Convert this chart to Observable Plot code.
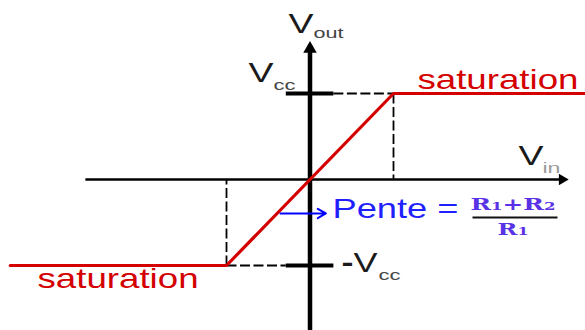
<!DOCTYPE html>
<html>
<head>
<meta charset="utf-8">
<script src="https://cdn.jsdelivr.net/npm/d3@7"></script>
<script src="https://cdn.jsdelivr.net/npm/@observablehq/plot@0.6"></script>
<style>
  html, body { margin: 0; padding: 0; background: white; }
</style>
</head>
<body>
<div id="chart"></div>
<script>
// Transfer characteristic (Vin in units of Vcc/gain, Vout in units of Vcc)
const curveVin  = [-3.59, -1, 1, 3.29];
const curveVout = [-1, -1, 1, 1];

// Dashed guide segments
const guideX1 = [0.28, 1, -1, -1];
const guideY1 = [1, 1, -1, -1];
const guideX2 = [1, 1, -0.29, -1];
const guideY2 = [1, 0, -1, 0];

// ±Vcc tick marks on the Vout axis
const tickLevels = [1, -1];
const tickFrom = -0.29, tickTo = 0.28;

// Axis extents
const xAxisFrom = -2.69, xAxisTo = 3.02;
const yAxisFrom = -1.76, yAxisTo = 1.52;

// Slope annotation arrow
const slopeArrow = {x1: -0.353, y1: -0.395, x2: 0.19, y2: -0.395};

// Labels
const mainLabels = [
  {text: "V",   x: -0.257, y: 1.709},
  {text: "V",   x: -0.737, y: 1.128},
  {text: "-V",  x: 0.377,  y: -1.081},
  {text: "V",   x: 2.497,  y: 0.163}
];
const subLabels = [
  {text: "out", x: 0.042, y: 1.64, kind: "sub"},
  {text: "cc",  x: -0.437, y: 1.035, kind: "sub"},
  {text: "cc",  x: 0.82,  y: -1.174, kind: "sub"},
  {text: "in",  x: 2.784, y: 0.081, kind: "subLight"}
];
const satLabels = [
  {text: "saturation", x: 1.287, y: 1.058},
  {text: "saturation", x: -3.263, y: -1.267}
];
const slopeLabel = [{text: "Pente =", x: 0.269, y: -0.453}];
const fracNum = [{text: "R1+R2", x: 1.922, y: -0.349}];
const fracDen = [{text: "R1", x: 2.246, y: -0.651}];
const fracBar = {x1: 1.946, x2: 2.964, y: -0.442};

const curve = curveVin.map((v, i) => ({vin: v, vout: curveVout[i]}));
const guides = guideX1.map((v, i) => ({x1: v, y1: guideY1[i], x2: guideX2[i], y2: guideY2[i]}));

const sans = "Liberation Sans, Arial, sans-serif";
const serif = "DejaVu Serif, serif";

const plot = Plot.plot({
  width: 585,
  height: 330,
  margin: 0,
  x: {domain: [-309.5 / 83.5, 275.5 / 83.5], axis: null},
  y: {domain: [-151 / 86, 179 / 86], axis: null},
  style: {background: "white", overflow: "visible"},
  marks: [
    // dashed guides
    Plot.link(guides, {x1: "x1", y1: "y1", x2: "x2", y2: "y2", stroke: "black", strokeWidth: 1.8, strokeDasharray: "10,3.5"}),
    // horizontal axis
    Plot.link([0], {x1: xAxisFrom, x2: xAxisTo, y1: 0, y2: 0, stroke: "black", strokeWidth: 2.5}),
    Plot.dot([0], {x: xAxisTo, y: 0, symbol: "triangle", r: 4.2, fill: "black", rotate: 90}),
    // vertical axis
    Plot.link([0], {x1: 0, x2: 0, y1: yAxisFrom, y2: yAxisTo, stroke: "black", strokeWidth: 4.5}),
    Plot.dot([0], {x: 0, y: yAxisTo, symbol: "triangle", r: 5, fill: "black"}),
    // ±Vcc ticks
    Plot.link(tickLevels, {x1: tickFrom, x2: tickTo, y1: d => d, y2: d => d, stroke: "black", strokeWidth: 4}),
    // transfer curve
    Plot.line(curve, {x: "vin", y: "vout", stroke: "#d40000", strokeWidth: 3.2}),
    // slope arrow
    Plot.arrow([slopeArrow], {x1: "x1", y1: "y1", x2: "x2", y2: "y2", stroke: "#0000ff", strokeWidth: 2, headLength: 7}),
    // fraction bar
    Plot.link([fracBar], {x1: "x1", x2: "x2", y1: "y", y2: "y", stroke: "#111", strokeWidth: 2}),
    // labels
    Plot.text(mainLabels, {x: "x", y: "y", text: "text", textAnchor: "start", lineAnchor: "bottom", fontSize: 27, fontFamily: sans, fill: "#1a1a1a"}),
    Plot.text(subLabels, {x: "x", y: "y", text: "text", textAnchor: "start", lineAnchor: "bottom", fontSize: 15, fontFamily: sans, fill: d => d.kind === "subLight" ? "#9a9a9a" : "#444"}),
    Plot.text(satLabels, {x: "x", y: "y", text: "text", textAnchor: "start", lineAnchor: "bottom", fontSize: 28, fontFamily: sans, fill: "#d40000"}),
    Plot.text(slopeLabel, {x: "x", y: "y", text: "text", textAnchor: "start", lineAnchor: "bottom", fontSize: 28, fontFamily: sans, fill: "#1f1fff"}),
    Plot.text(fracNum, {x: "x", y: "y", text: "text", textAnchor: "start", lineAnchor: "bottom", fontSize: 16.5, fontWeight: "bold", fontFamily: serif, fill: "#5a32e6"}),
    Plot.text(fracDen, {x: "x", y: "y", text: "text", textAnchor: "start", lineAnchor: "bottom", fontSize: 16.5, fontWeight: "bold", fontFamily: serif, fill: "#5a32e6"})
  ]
});

// Horizontal stretch of the lettering, as in the reference drawing
const lengths = {"V": 25, "-V": 36, "out": 30, "cc": 22, "in": 18, "saturation": 161, "Pente =": 126, "R1+R2": 85, "R1": 31};
d3.select(plot).selectAll("text").each(function () {
  const t = this.textContent;
  if (t === "R1+R2" || t === "R1") {
    const parts = t.match(/R|\d|\+/g);
    this.textContent = "";
    for (const p of parts) {
      const ts = document.createElementNS("http://www.w3.org/2000/svg", "tspan");
      ts.textContent = p;
      if (/\d/.test(p)) ts.setAttribute("font-size", "11");
      this.appendChild(ts);
    }
  }
  if (t === "-V") {
    this.textContent = "";
    const dash = document.createElementNS("http://www.w3.org/2000/svg", "tspan");
    dash.textContent = "-";
    dash.setAttribute("font-weight", "bold");
    const v = document.createElementNS("http://www.w3.org/2000/svg", "tspan");
    v.textContent = "V";
    this.appendChild(dash);
    this.appendChild(v);
  }
  if (lengths[t] != null) {
    this.setAttribute("textLength", lengths[t]);
    this.setAttribute("lengthAdjust", "spacingAndGlyphs");
  }
});

document.getElementById("chart").appendChild(plot);
</script>
</body>
</html>
